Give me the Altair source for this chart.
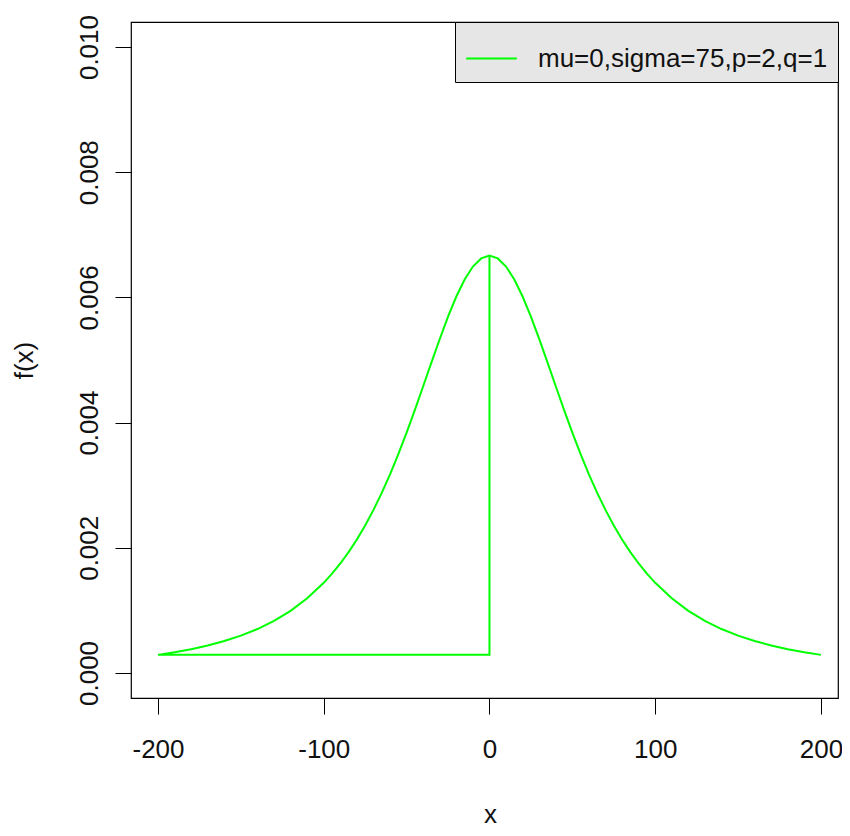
import altair as alt
import pandas as pd

# Curve values (x from -200 to 200)
curve_x = [-200, -190, -180, -170, -160, -150, -140, -130, -120, -110, -100,
           -95, -90, -85, -80, -75, -70, -65, -60, -55, -50, -45, -40, -35, -30,
           -25, -20, -15, -10, -5, 0, 5, 10, 15, 20, 25, 30, 35, 40, 45, 50, 55,
           60, 65, 70, 75, 80, 85, 90, 95, 100, 110, 120, 130, 140, 150, 160,
           170, 180, 190, 200]
curve_y = [0.000289, 0.000330, 0.000379, 0.000438, 0.000510, 0.000596, 0.000702,
           0.000832, 0.000993, 0.001192, 0.001440, 0.001586, 0.001749, 0.001931,
           0.002133, 0.002357, 0.002605, 0.002877, 0.003174, 0.003496, 0.003840,
           0.004203, 0.004580, 0.004961, 0.005336, 0.005692, 0.006014, 0.006286,
           0.006493, 0.006623, 0.006667, 0.006623, 0.006493, 0.006286, 0.006014,
           0.005692, 0.005336, 0.004961, 0.004580, 0.004203, 0.003840, 0.003496,
           0.003174, 0.002877, 0.002605, 0.002357, 0.002133, 0.001931, 0.001749,
           0.001586, 0.001440, 0.001192, 0.000993, 0.000832, 0.000702, 0.000596,
           0.000510, 0.000438, 0.000379, 0.000330, 0.000289]

# Extra path segment visible in the reference (vertical at 0, horizontal back to -200)
extra_x = [0, 0, -200]
extra_y = [0.006667, 0.000289, 0.000289]

x_ticks = [-200, -100, 0, 100, 200]
y_ticks = [0.000, 0.002, 0.004, 0.006, 0.008, 0.010]
series_label = "mu=0,sigma=75,p=2,q=1"

path_x = extra_x + curve_x
path_y = extra_y + curve_y
df = pd.DataFrame({
    "x": path_x,
    "y": path_y,
    "i": list(range(len(path_x))),
    "series": [series_label] * len(path_x),
})

FONT = "Liberation Sans"
FS = 26
W = 707
H = 676

chart = alt.Chart(df).mark_line(strokeWidth=2).encode(
    x=alt.X("x:Q",
            scale=alt.Scale(domain=[-216.3, 210.3], nice=False, zero=False),
            axis=alt.Axis(values=x_ticks, title="x", labelExpr="datum.value + ''",
                          grid=False,
                          domain=False, tickSize=16, tickColor="#000",
                          labelPadding=22, labelFontSize=FS, labelFont=FONT,
                          labelColor="#111", titleFont=FONT, titleFontSize=FS,
                          titleFontWeight="normal", titleColor="#111",
                          titleX=359, titleY=124, titleBaseline="alphabetic",
                          titleAlign="center", labelFlush=False)),
    y=alt.Y("y:Q",
            scale=alt.Scale(domain=[-0.0004, 0.0104], nice=False, zero=False),
            axis=alt.Axis(values=y_ticks, title="f(x)", format=".3f", grid=False,
                          domain=False, tickSize=16, tickColor="#000",
                          labelAngle=-90, labelAlign="center", labelBaseline="bottom",
                          labelPadding=13, labelFontSize=FS, labelFont=FONT,
                          labelColor="#111", titleFont=FONT, titleFontSize=FS,
                          titleFontWeight="normal", titleColor="#111",
                          titleAngle=-90, titleX=-99, titleY=338,
                          titleBaseline="alphabetic", titleAlign="center",
                          labelFlush=False)),
    order="i:Q",
    color=alt.Color("series:N", scale=alt.Scale(range=["#00ff00"]),
                    legend=alt.Legend(title=None, orient="top-right", offset=0)),
).properties(
    width=W,
    height=H,
    autosize=alt.AutoSizeParams(type="none"),
    padding={"left": 123, "top": 14, "right": 4, "bottom": 130},
).configure_view(
    stroke="#000", strokeWidth=1.2
).configure_legend(
    fillColor="#e6e6e6", strokeColor="#000", padding=10, cornerRadius=0,
    symbolType="stroke", symbolSize=2560, symbolStrokeWidth=2,
    labelFontSize=FS, labelFont=FONT, labelColor="#111", labelOffset=20,
    labelLimit=600
)

chart.save("out.html", embed_options={"renderer": "svg", "actions": False})
